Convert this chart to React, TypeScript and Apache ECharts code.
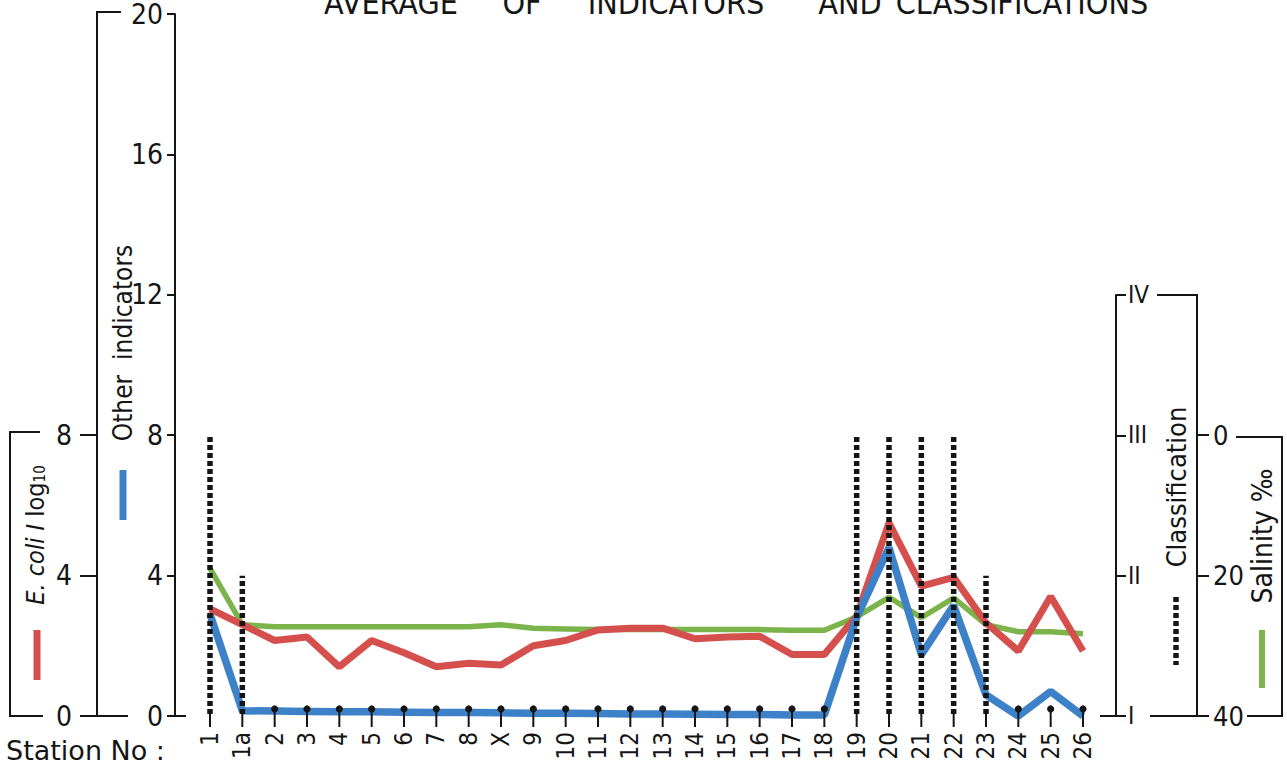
import React, { useEffect, useRef } from "react";
import * as echarts from "echarts";

// Sampling stations along the survey
const stations = ["1", "1a", "2", "3", "4", "5", "6", "7", "8", "X", "9", "10", "11", "12", "13", "14", "15", "16", "17", "18", "19", "20", "21", "22", "23", "24", "25", "26"];

// E. coli I, log10
const eColi = [3.05, 2.6, 2.15, 2.25, 1.4, 2.15, 1.8, 1.4, 1.5, 1.45, 2.0, 2.15, 2.45, 2.5, 2.5, 2.2, 2.25, 2.27, 1.75, 1.75, 2.85, 5.5, 3.7, 3.95, 2.65, 1.85, 3.4, 1.85];

// Other indicators
const otherIndicators = [2.9, 0.15, 0.14, 0.13, 0.12, 0.12, 0.11, 0.1, 0.1, 0.09, 0.08, 0.08, 0.07, 0.06, 0.06, 0.05, 0.04, 0.04, 0.03, 0.03, 2.8, 4.8, 1.75, 3.15, 0.6, 0.0, 0.7, 0.0];

// Salinity, per mille
const salinity = [19.0, 27.0, 27.3, 27.3, 27.3, 27.3, 27.3, 27.3, 27.3, 27.0, 27.5, 27.6, 27.7, 27.7, 27.7, 27.7, 27.7, 27.7, 27.8, 27.8, 25.9, 23.1, 26.0, 23.2, 27.0, 28.0, 28.0, 28.3];

// Classification I..IV
const classification = [3, 2, 1, 1, 1, 1, 1, 1, 1, 1, 1, 1, 1, 1, 1, 1, 1, 1, 1, 1, 3, 3, 3, 3, 2, 1, 1, 1];
const romanLabels = ["", "I", "II", "III", "IV"];

const otherTicks = [0, 20, 4];
const eColiTicks = [0, 8, 4];
const salinityTicks = [0, 40, 20];

const FONT = "'Liberation Sans Narrow', 'DejaVu Sans Condensed', 'Open Sans', sans-serif";
const WIDE_FONT = "'DejaVu Sans', 'Open Sans', sans-serif";
const INK = "#151515";
const RED = "#d5504c";
const BLUE = "#3d82c9";
const GREEN = "#7ab44a";

const PLOT_LEFT = 210;
const PLOT_RIGHT = 204;
const BASE_Y = 716;

function line(x1: number, y1: number, x2: number, y2: number, stroke = INK, lineWidth = 2, lineDash?: number[]) {
  return {
    type: "line",
    silent: true,
    shape: { x1, y1, x2, y2 },
    style: { stroke, lineWidth, lineDash, lineCap: "butt" },
  };
}

function vText(text: string, x: number, y: number, fontSize: number, rich?: any) {
  return {
    type: "text",
    silent: true,
    x,
    y,
    rotation: Math.PI / 2,
    style: {
      text,
      fontFamily: FONT,
      fontSize,
      fill: INK,
      align: "center",
      verticalAlign: "middle",
      rich,
    },
  };
}

function hText(text: string, x: number, y: number, fontSize: number, align = "center", fontFamily = FONT) {
  return {
    type: "text",
    silent: true,
    x,
    y,
    style: { text, fontFamily, fontSize, fill: INK, align, verticalAlign: "middle" },
  };
}

export default function App() {
  const ref = useRef<HTMLDivElement>(null);

  useEffect(() => {
    if (!ref.current) return;
    const chart = echarts.init(ref.current, null, { renderer: "svg" });

    const hiddenX = (gridIndex: number) => ({
      type: "category",
      gridIndex,
      data: stations,
      boundaryGap: false,
      show: false,
    });

    const yCommon = {
      splitLine: { show: false },
      axisLine: { show: true, lineStyle: { color: INK, width: 2 } },
      axisTick: { show: true, inside: false, lineStyle: { color: INK, width: 2 } },
    };

    const option: any = {
      animation: false,
      backgroundColor: "#ffffff",
      grid: [
        { left: PLOT_LEFT, right: PLOT_RIGHT, top: 12, height: BASE_Y - 12 },
        { left: PLOT_LEFT, right: PLOT_RIGHT, top: 435, height: BASE_Y - 435 },
        { left: PLOT_LEFT, right: PLOT_RIGHT, top: 295, height: BASE_Y - 295 },
        { left: PLOT_LEFT, right: PLOT_RIGHT, top: 435, height: BASE_Y - 435 },
      ],
      xAxis: [
        {
          type: "category",
          gridIndex: 0,
          data: stations,
          boundaryGap: false,
          axisLine: { show: false },
          axisTick: { show: false },
          axisLabel: {
            rotate: 90,
            margin: 16,
            fontFamily: FONT,
            fontSize: 24,
            color: INK,
            interval: 0,
          },
        },
        hiddenX(1),
        hiddenX(2),
        hiddenX(3),
      ],
      yAxis: [
        {
          ...yCommon,
          type: "value",
          gridIndex: 0,
          position: "left",
          offset: PLOT_LEFT - 175,
          min: otherTicks[0],
          max: otherTicks[1],
          interval: otherTicks[2],
          axisTick: { ...yCommon.axisTick, length: 8 },
          axisLabel: { margin: 12, fontFamily: FONT, fontSize: 28, color: INK },
        },
        {
          ...yCommon,
          type: "value",
          gridIndex: 1,
          position: "left",
          offset: PLOT_LEFT - 97,
          min: eColiTicks[0],
          max: eColiTicks[1],
          interval: eColiTicks[2],
          axisTick: { ...yCommon.axisTick, length: 17 },
          axisLabel: { margin: 25, fontFamily: FONT, fontSize: 28, color: INK },
        },
        {
          ...yCommon,
          type: "value",
          gridIndex: 2,
          position: "right",
          offset: 1116 - (1287 - PLOT_RIGHT),
          min: 1,
          max: 4,
          interval: 1,
          axisTick: { ...yCommon.axisTick, length: 10 },
          axisLabel: {
            margin: 12,
            fontFamily: FONT,
            fontSize: 24,
            color: INK,
            formatter: (v: number) => romanLabels[v] || "",
          },
        },
        {
          ...yCommon,
          type: "value",
          gridIndex: 3,
          position: "right",
          offset: 1197 - (1287 - PLOT_RIGHT),
          inverse: true,
          min: salinityTicks[0],
          max: salinityTicks[1],
          interval: salinityTicks[2],
          axisTick: { ...yCommon.axisTick, length: 12 },
          axisLabel: { margin: 16, fontFamily: FONT, fontSize: 27, color: INK },
        },
      ],
      series: [
        {
          name: "Salinity ‰",
          type: "line",
          xAxisIndex: 3,
          yAxisIndex: 3,
          data: salinity,
          symbol: "none",
          lineStyle: { color: GREEN, width: 5.5 },
          z: 2,
        },
        {
          name: "E. coli I log10",
          type: "line",
          xAxisIndex: 1,
          yAxisIndex: 1,
          data: eColi,
          symbol: "none",
          lineStyle: { color: RED, width: 7 },
          z: 3,
        },
        {
          name: "Other indicators",
          type: "line",
          xAxisIndex: 0,
          yAxisIndex: 0,
          data: otherIndicators,
          symbol: "none",
          lineStyle: { color: BLUE, width: 7.5 },
          z: 4,
        },
        {
          name: "Classification",
          type: "custom",
          xAxisIndex: 2,
          yAxisIndex: 2,
          z: 6,
          data: classification.map((c, i) => [i, c]),
          renderItem: (_params: any, api: any) => {
            const idx = api.value(0);
            const c = api.value(1);
            const top = api.coord([idx, c]);
            const base = api.coord([idx, 1]);
            const x = base[0];
            const children: any[] = [];
            if (c > 1) {
              children.push({
                type: "line",
                shape: { x1: x, y1: base[1] - 2, x2: x, y2: top[1] },
                style: { stroke: INK, lineWidth: 5.5, lineDash: [5, 3], lineCap: "butt" },
              });
              children.push({
                type: "line",
                shape: { x1: x, y1: base[1] - 4, x2: x, y2: base[1] + 11 },
                style: { stroke: INK, lineWidth: 2 },
              });
            } else {
              children.push({
                type: "line",
                shape: { x1: x, y1: base[1] - 7, x2: x, y2: base[1] + 11 },
                style: { stroke: INK, lineWidth: 2 },
              });
              children.push({
                type: "circle",
                shape: { cx: x, cy: base[1] - 7, r: 3.6 },
                style: { fill: INK },
              });
            }
            return { type: "group", children };
          },
        },
      ],
      graphic: [
        // title (runs off the top edge)
        hText("AVERAGE", 391, 3, 32),
        hText("OF", 522, 3, 32),
        hText("INDICATORS", 676, 3, 32),
        hText("AND", 850, 3, 32),
        hText("CLASSIFICATIONS", 1022, 3, 32),

        // E. coli bracket
        line(10, 432, 10, 717),
        line(9, 432, 40, 432),
        line(9, 716, 43, 716),
        vText("{i|E. coli I} log{s|10}", 35, 535, 25, {
          i: { fontFamily: FONT, fontSize: 25, fontStyle: "italic", fill: INK },
          s: { fontFamily: FONT, fontSize: 15, fill: INK, verticalAlign: "bottom", padding: [10, 0, 0, 0] },
        }),
        line(37, 630, 37, 680, RED, 7),

        // Other indicators bracket
        line(97, 11, 97, 717),
        line(96, 12, 121, 12),
        line(97, 716, 128, 716),
        line(175, 716, 186, 716),
        vText("Other  indicators", 123, 343, 26),
        line(123, 470, 123, 520, BLUE, 7),

        // Classification / salinity brackets
        line(1100, 716, 1116, 716),
        line(1157, 295, 1198, 295),
        line(1197, 294, 1197, 437),
        line(1150, 716, 1197, 716),
        vText("Classification", 1176, 487, 27),
        line(1176, 597, 1176, 665, INK, 5.5, [5, 3]),
        line(1236, 437, 1283, 437),
        line(1282, 436, 1282, 717),
        line(1247, 716, 1283, 716),
        vText("Salinity ‰", 1262, 536, 28),
        line(1262, 630, 1262, 688, GREEN, 6),

        // x-axis caption
        hText("Station No :", 6, 750, 27, "left", WIDE_FONT),
      ],
    };

    chart.setOption(option);
    return () => chart.dispose();
  }, []);

  return (
    <div
      ref={ref}
      style={{ position: "fixed", left: 0, top: 0, width: 1287, height: 783, background: "#fff" }}
    />
  );
}
